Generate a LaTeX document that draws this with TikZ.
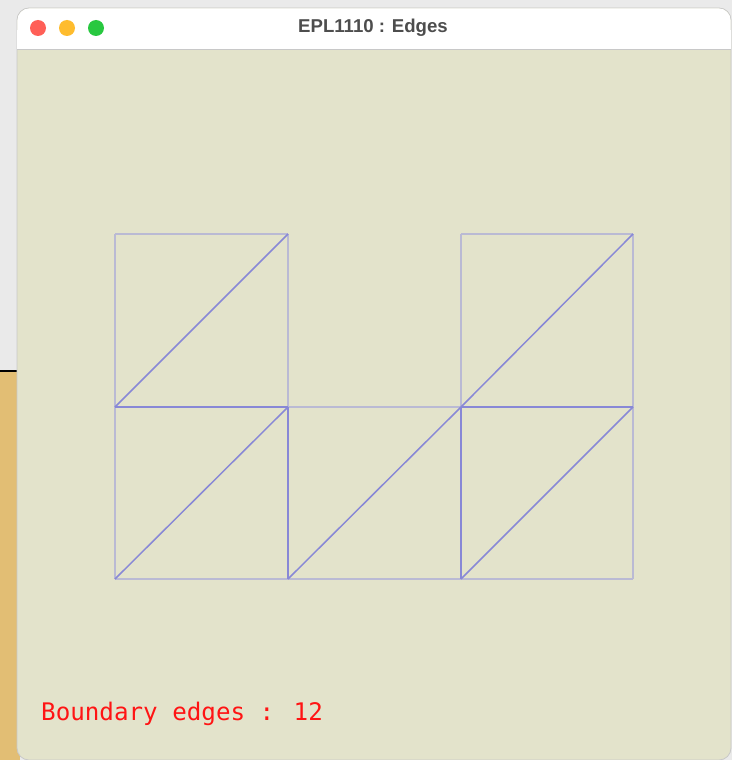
\documentclass[tikz,border=0pt]{standalone}
\usepackage{fontspec}
\newfontfamily\titlefont{Liberation Sans}
\newfontfamily\monofont{DejaVu Sans Mono}
\definecolor{desk}{RGB}{234,234,234}
\definecolor{sand}{RGB}{226,190,116}
\definecolor{canvas}{RGB}{227,227,203}
\definecolor{frame}{RGB}{200,200,200}
\definecolor{bordercol}{RGB}{186,186,212}
\definecolor{innercol}{RGB}{136,136,214}
\tikzset{
  bedge/.style={draw=bordercol,line width=2.8pt},
  iedge/.style={draw=innercol,line width=1.5pt},
  light/.style={circle,inner sep=0pt,minimum size=16pt}
}
\begin{document}
\begin{tikzpicture}[x=1pt,y=-1pt]
\useasboundingbox (0,0) rectangle (732,760);
% desktop behind the window
\fill[desk] (0,0) rectangle (732,760);
\fill[sand] (0,371) rectangle (20,760);
\draw[black,line width=2pt] (0,371) -- (20,371);

% window
\fill[canvas,draw=frame,line width=0.8pt,rounded corners=12pt] (17,8) rectangle (731,760);
\fill[white,rounded corners=12pt] (17.4,8.4) -- (730.6,8.4) -- (730.6,49) -- (17.4,49) -- cycle;
\fill[white] (17.4,30) rectangle (730.6,49);
\draw[frame] (17.4,49.5) -- (730.6,49.5);
\node[light,fill={rgb,255:red,255;green,95;blue,87}] (close) at (38,28) {};
\node[light,fill={rgb,255:red,254;green,188;blue,46}] (mini) at (67,28) {};
\node[light,fill={rgb,255:red,40;green,200;blue,64}] (zoom) at (96,28) {};
\node[text={rgb,255:red,77;green,77;blue,77},font=\titlefont\fontsize{18.6}{22}\selectfont\bfseries] (title) at (373,28) {EPL1110 : Edges};

% mesh vertices
\foreach \i/\x in {1/115,2/288,3/461,4/633}
  \foreach \j/\y in {1/234,2/407,3/579}
    \coordinate (p\i\j) at (\x,\y);

% boundary edges
\foreach \a/\b in {p11/p21,p11/p12,p21/p22,p31/p41,p31/p32,p41/p42,
                   p22/p32,p12/p13,p13/p23,p23/p33,p33/p43,p42/p43}
  \draw[bedge] (\a) -- (\b);

% inner edges
\foreach \a/\b in {p12/p22,p32/p42,p22/p23,p32/p33,
                   p12/p21,p32/p41,p13/p22,p23/p32,p33/p42}
  \draw[iedge] (\a) -- (\b);

\node[anchor=base west,inner sep=0pt,text={rgb,255:red,255;green,20;blue,20},
      font=\monofont\fontsize{24.2}{28}\selectfont] (count) at (41,720) {Boundary edges : 12};
\end{tikzpicture}
\end{document}
